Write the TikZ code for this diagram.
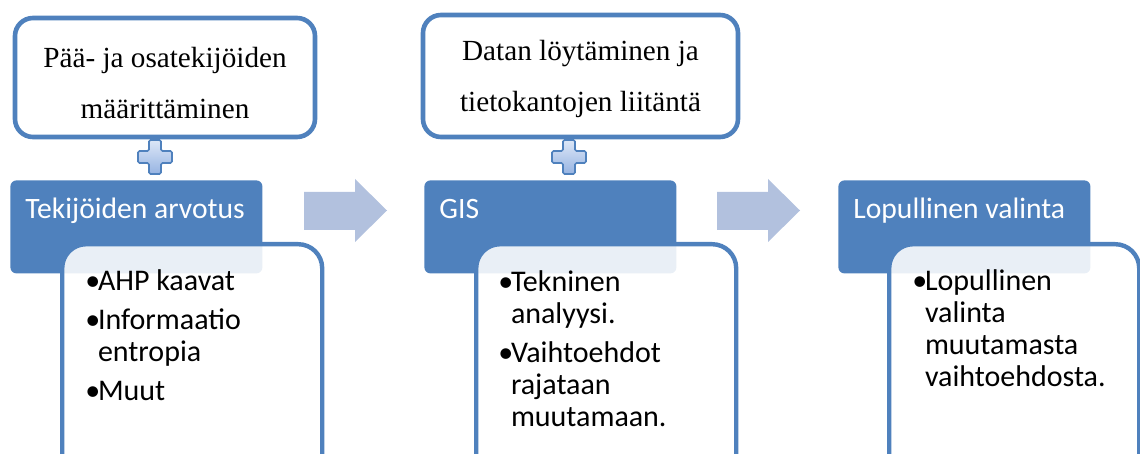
\documentclass[tikz,border=0pt]{standalone}
\usepackage{fontspec}
\setmainfont{Liberation Serif}
\newfontfamily\calibri{Carlito}
\definecolor{sininen}{HTML}{4F81BD}
\definecolor{nuolivari}{HTML}{B2C1DE}
\definecolor{plusvaalea}{HTML}{DCE7F7}
\definecolor{plustumma}{HTML}{97B4E2}
\tikzset{
  ylalaatikko/.style={draw=sininen, line width=2.3pt, rounded corners=9pt, fill=white},
  ylateksti/.style={align=center, inner sep=0pt, font=\fontsize{14.6}{25.5}\selectfont},
  otsikko/.style={fill=sininen, rounded corners=3pt, anchor=north west,
    minimum width=126pt, minimum height=46.5pt, inner sep=0pt},
  otsikkoteksti/.style={anchor=base west, inner sep=0pt, text=white,
    font=\calibri\fontsize{14.8}{17}\selectfont},
  lista/.style={draw=sininen, line width=2.2pt, rounded corners=12pt, fill=white,
    fill opacity=0.88, anchor=north west, minimum width=130pt, minimum height=130pt, inner sep=0pt},
  luettelo/.style={anchor=north west, inner sep=0pt, align=left,
    font=\calibri\fontsize{15}{16}\selectfont},
  plus/.style={draw=sininen, line width=0.8pt, top color=plusvaalea, bottom color=plustumma,
    rounded corners=0.8pt},
  nuoli/.style={fill=nuolivari}
}
\newcommand\plusmerkki[1]{%
  \begin{scope}[shift={(#1)}]
    \draw[plus] (-6,-17) -- (6,-17) -- (6,-6) -- (17,-6) -- (17,6) -- (6,6) -- (6,17)
      -- (-6,17) -- (-6,6) -- (-17,6) -- (-17,-6) -- (-6,-6) -- cycle;
  \end{scope}}
\newcommand\nuolimerkki[1]{%
  \begin{scope}[xshift=#1]
    \fill[nuoli] (0,192) -- (51,192) -- (51,179) -- (83,210.5) -- (51,242) -- (51,230) -- (0,230) -- cycle;
  \end{scope}}
\newcommand\bul{\makebox[6.3pt][l]{•}}
\newcommand\sis{\hspace*{6.3pt}}
\begin{document}
\begin{tikzpicture}[x=0.5pt,y=-0.5pt]
    \useasboundingbox (0,0) rectangle (1140,454);
    \clip (0,0) rectangle (1140,454);

    % Ylälaatikot
    \node[ylalaatikko, minimum width=150pt, minimum height=59.5pt] (maar) at (165,77.5) {};
    \node[ylalaatikko, minimum width=157.5pt, minimum height=61pt] (data) at (580.5,76) {};
    \node[ylateksti] (maarteksti) at (165,83) {Pää- ja osatekijöiden\\määrittäminen};
    \node[ylateksti] (datateksti) at (580.5,79) {Datan löytäminen ja\\tietokantojen liitäntä};

    % Plusmerkit
    \coordinate (plus1) at (155,157);
    \coordinate (plus2) at (569,157);
    \plusmerkki{plus1}
    \plusmerkki{plus2}

    % Otsikot
    \node[otsikko] (arvotus) at (10,180) {};
    \node[otsikko] (gis) at (424,180) {};
    \node[otsikko] (valinta) at (838,180) {};
    \node[otsikkoteksti] at (25,219) {Tekijöiden arvotus};
    \node[otsikkoteksti] at (439,219) {GIS};
    \node[otsikkoteksti] at (853,219) {Lopullinen valinta};

    % Nuolet
    \nuolimerkki{152pt}
    \nuolimerkki{358.5pt}

    % Sisältölaatikot
    \node[lista] (arvotuslista) at (60,242) {};
    \node[lista] (gislista) at (474,242) {};
    \node[lista, minimum width=125pt] (valintalista) at (887,242) {};

    % Luettelot
    \node[luettelo] at (85,269) {
        \bul AHP kaavat\\[3.5pt]
        \bul Informaatio\\
        \sis entropia\\[3.5pt]
        \bul Muut
    };
    \node[luettelo] at (498,270) {
        \bul Tekninen\\
        \sis analyysi.\\[3.5pt]
        \bul Vaihtoehdot\\
        \sis rajataan\\
        \sis muutamaan.
    };
    \node[luettelo] at (912,269) {
        \bul Lopullinen\\
        \sis valinta\\
        \sis muutamasta\\
        \sis vaihtoehdosta.
    };
\end{tikzpicture}
\end{document}
